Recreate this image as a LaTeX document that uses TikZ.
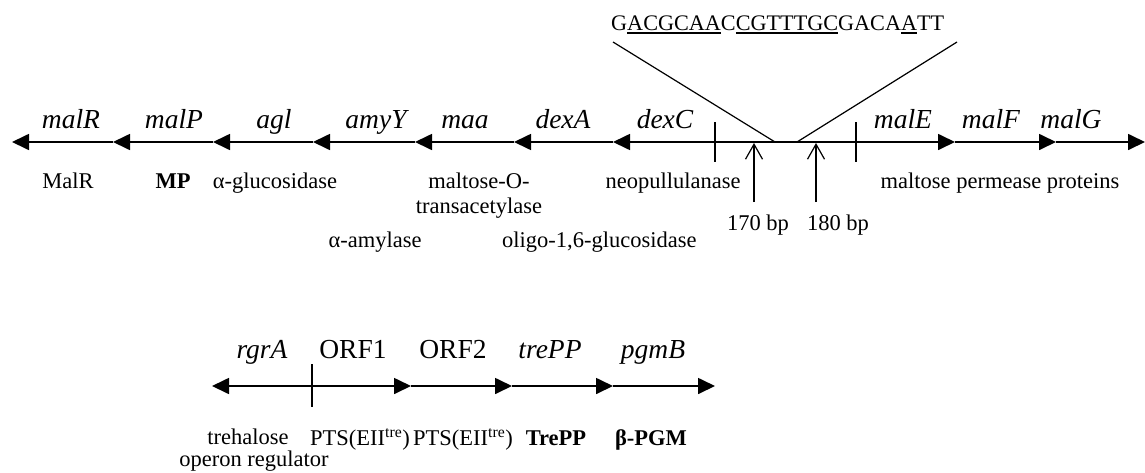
\documentclass[tikz,border=0pt]{standalone}
\usepackage{fontspec}
\setmainfont{Liberation Serif}
\usetikzlibrary{arrows.meta}
\newcommand\sequl[1]{\setbox0\hbox{#1}\rlap{\vrule width \wd0 height -2.4pt depth 4.4pt}\box0}
\begin{document}
\begin{tikzpicture}[x=1pt,y=-1pt,
  gene/.style={font=\fontsize{27.5}{32}\selectfont\itshape, inner sep=0pt, anchor=base},
  orf/.style={font=\fontsize{27.5}{32}\selectfont, inner sep=0pt, anchor=base},
  prot/.style={font=\fontsize{22.5}{25}\selectfont, inner sep=0pt, anchor=base},
  seqtext/.style={font=\fontsize{22.2}{26}\selectfont, inner sep=0pt, anchor=base west},
  dna/.style={line width=1.7pt},
  genearrow/.style={dna, -{Triangle[length=17pt,width=16pt]}},
  tickline/.style={line width=1.2pt},
  thinline/.style={line width=1.2pt},
  posarrow/.style={line width=1.2pt, -{Straight Barb[length=15pt,width=17pt,line width=1.2pt]}}
]
\useasboundingbox (0,0) rectangle (1145,472);

% ---------- upper operon ----------
\coordinate (t0) at (12,142);
\coordinate (t1) at (113,142);
\coordinate (t2) at (213,142);
\coordinate (t3) at (313,142);
\coordinate (t4) at (415,142);
\coordinate (t5) at (514,142);
\coordinate (t6) at (613,142);
\coordinate (mid) at (786,142);
\coordinate (r0) at (856,142);
\coordinate (r1) at (955,142);
\coordinate (r2) at (1056,142);
\coordinate (r3) at (1145,142);

\draw[genearrow] (t1) -- (t0);
\draw[genearrow] (t2) -- (t1);
\draw[genearrow] (t3) -- (t2);
\draw[genearrow] (t4) -- (t3);
\draw[genearrow] (t5) -- (t4);
\draw[genearrow] (t6) -- (t5);
\draw[genearrow] (mid) -- (t6);
\draw[dna] (mid) -- (r0);
\draw[genearrow] (r0) -- (r1);
\draw[genearrow] (r1) -- (r2);
\draw[genearrow] (r2) -- (r3);

% ticks
\coordinate (k1a) at (715,122); \coordinate (k1b) at (715,162);
\coordinate (k2a) at (856,122); \coordinate (k2b) at (856,162);
\draw[tickline] (k1a) -- (k1b);
\draw[tickline] (k2a) -- (k2b);

% sequence and its lines
\node[seqtext] (seq) at (611,30) {G\sequl{ACGCAA}C\sequl{CGTTTGC}GACA\sequl{A}TT};
\coordinate (dl1) at (613,42); \coordinate (dl2) at (775,142);
\coordinate (dr1) at (797,142); \coordinate (dr2) at (957,42);
\draw[thinline] (dl1) -- (dl2);
\draw[thinline] (dr1) -- (dr2);

% position arrows
\coordinate (p170a) at (754,202); \coordinate (p170b) at (754,143);
\coordinate (p180a) at (816,202); \coordinate (p180b) at (816,143);
\draw[posarrow] (p170a) -- (p170b);
\draw[posarrow] (p180a) -- (p180b);

% gene names
\node[gene] (malR) at (71,128) {malR};
\node[gene] (malP) at (174,128) {malP};
\node[gene] (agl) at (274,128) {agl};
\node[gene] (amyY) at (376,128) {amyY};
\node[gene] (maa) at (465,128) {maa};
\node[gene] (dexA) at (563,128) {dexA};
\node[gene] (dexC) at (665,128) {dexC};
\node[gene] (malE) at (903,128) {malE};
\node[gene] (malF) at (991,128) {malF};
\node[gene] (malG) at (1071,128) {malG};

% products
\node[prot] (pMalR) at (68,188) {MalR};
\node[prot] (pMP) at (173,188) {\textbf{MP}};
\node[prot] (pagl) at (275,188) {α-glucosidase};
\node[prot, align=center, anchor=north] (pmaa) at (479,173) {maltose-O-\\transacetylase};
\node[prot] (pdexC) at (673,188) {neopullulanase};
\node[prot] (pmal) at (1000,188) {maltose permease proteins};
\node[prot] (b170) at (758,230) {170 bp};
\node[prot] (b180) at (838,230) {180 bp};
\node[prot] (pamy) at (375,247) {α-amylase};
\node[prot, anchor=base west] (pdexA) at (502,247) {oligo-1,6-glucosidase};

% ---------- lower operon ----------
\coordinate (s0) at (212,386);
\coordinate (s1) at (312,386);
\coordinate (s2) at (411,386);
\coordinate (s3) at (512,386);
\coordinate (s4) at (613,386);
\coordinate (s5) at (715,386);
\draw[genearrow] (s1) -- (s0);
\draw[genearrow] (s1) -- (s2);
\draw[genearrow] (s2) -- (s3);
\draw[genearrow] (s3) -- (s4);
\draw[genearrow] (s4) -- (s5);
\coordinate (k3a) at (312,364); \coordinate (k3b) at (312,407);
\draw[tickline] (k3a) -- (k3b);

\node[gene] (rgrA) at (262,358) {rgrA};
\node[orf] (orf1) at (353,358) {ORF1};
\node[orf] (orf2) at (453,358) {ORF2};
\node[gene] (trePP) at (550,358) {trePP};
\node[gene] (pgmB) at (653,358) {pgmB};

\node[prot] (prgr1) at (248,444) {trehalose};
\node[prot] (prgr2) at (254,466) {operon regulator};
\node[prot] (pts1) at (360,445) {PTS(EII\textsuperscript{tre})};
\node[prot] (pts2) at (463,445) {PTS(EII\textsuperscript{tre})};
\node[prot] (ptre) at (556,445) {\textbf{TrePP}};
\node[prot] (ppgm) at (651,445) {\textbf{β-PGM}};
\end{tikzpicture}
\end{document}
